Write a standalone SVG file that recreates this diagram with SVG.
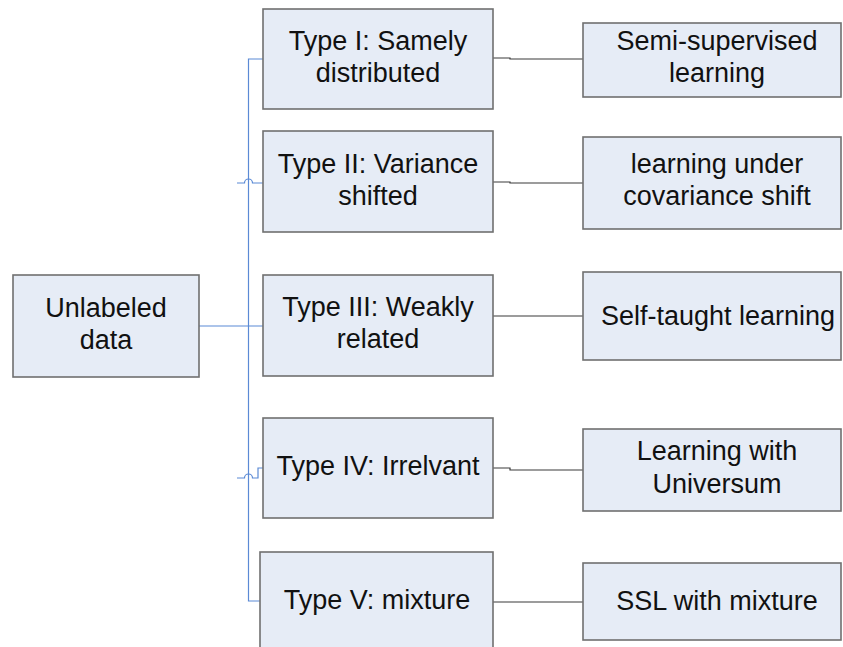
<svg xmlns="http://www.w3.org/2000/svg" width="843" height="647" viewBox="0 0 843 647">
<style>
.box{fill:#e6ecf6;stroke:#707070;stroke-width:1.6}
.t{font-family:"Liberation Sans",Arial,sans-serif;font-size:27px;fill:#111;text-anchor:middle}
.blue{fill:none;stroke:#5b8ad5;stroke-width:1.2}
.blk{fill:none;stroke:#3a3a3a;stroke-width:1.2}
</style>
<rect width="843" height="647" fill="#fff"/>
<g id="connectors">
<path class="blue" d="M263,59 H248.5 V601 H260"/>
<path class="blue" d="M199,326 H263"/>
<path class="blue" d="M237,183 H244.5 A4,4 0 0 1 252.5,183 H263"/>
<path class="blue" d="M237,478 H244.5 A4,4 0 0 1 252.5,478 H258 V468 H263"/>
<path class="blk" d="M493,58 H510 V59 H583"/>
<path class="blk" d="M493,182 H510 V183 H583"/>
<path class="blk" d="M493,316 H583"/>
<path class="blk" d="M493,468 H510 V470 H583"/>
<path class="blk" d="M493,602 H583"/>
</g>
<g id="unlabeled">
<rect class="box" x="13" y="275" width="186" height="102"/>
<text class="t" x="106" y="317">Unlabeled</text>
<text class="t" x="106" y="349">data</text>
</g>
<g id="type1">
<rect class="box" x="263" y="9" width="230" height="100"/>
<text class="t" x="378" y="50">Type I: Samely</text>
<text class="t" x="378" y="82">distributed</text>
</g>
<g id="type2">
<rect class="box" x="263" y="131" width="230" height="101"/>
<text class="t" x="378" y="173">Type II: Variance</text>
<text class="t" x="378" y="205">shifted</text>
</g>
<g id="type3">
<rect class="box" x="263" y="275" width="230" height="101"/>
<text class="t" x="378" y="316">Type III: Weakly</text>
<text class="t" x="378" y="348">related</text>
</g>
<g id="type4">
<rect class="box" x="263" y="418" width="230" height="100"/>
<text class="t" x="378" y="475">Type IV: Irrelvant</text>
</g>
<g id="type5">
<rect class="box" x="260" y="552" width="233" height="110"/>
<text class="t" x="377" y="609">Type V: mixture</text>
</g>
<g id="semi">
<rect class="box" x="583" y="23" width="258" height="74"/>
<text class="t" x="717" y="50">Semi-supervised</text>
<text class="t" x="717" y="82">learning</text>
</g>
<g id="covshift">
<rect class="box" x="583" y="137" width="258" height="92"/>
<text class="t" x="717" y="173">learning under</text>
<text class="t" x="717" y="205">covariance shift</text>
</g>
<g id="selftaught">
<rect class="box" x="583" y="272" width="258" height="88"/>
<text class="t" x="718" y="325">Self-taught learning</text>
</g>
<g id="universum">
<rect class="box" x="583" y="429" width="258" height="82"/>
<text class="t" x="717" y="460">Learning with</text>
<text class="t" x="717" y="493">Universum</text>
</g>
<g id="sslmix">
<rect class="box" x="583" y="563" width="258" height="77"/>
<text class="t" x="717" y="610">SSL with mixture</text>
</g>
</svg>
